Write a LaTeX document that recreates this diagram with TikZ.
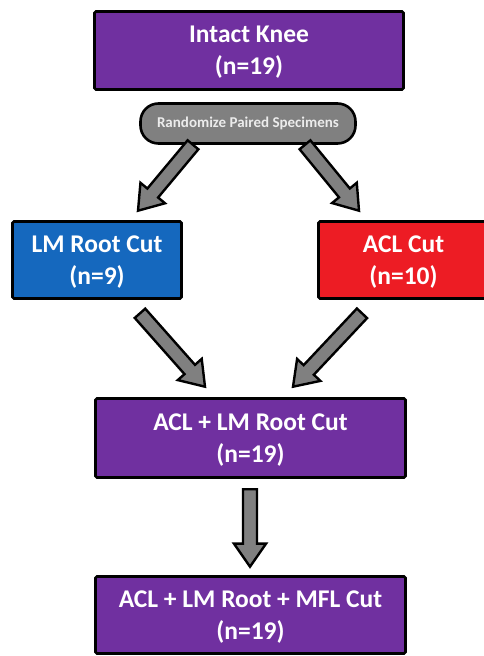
\documentclass[tikz,border=0pt]{standalone}
\usepackage{fontspec}
\setmainfont{Carlito}
\usetikzlibrary{calc, positioning}
\definecolor{KneePurple}{RGB}{112, 48, 160}
\definecolor{CutBlue}{RGB}{21, 104, 190}
\definecolor{CutRed}{RGB}{237, 28, 36}
\definecolor{ArrowGrey}{RGB}{128, 128, 128}

\begin{document}
\begin{tikzpicture}[x=1pt, y=1pt,
    box/.style={draw=black, line width=2.6pt, rounded corners=1.5pt, text=white,
        align=center, inner sep=0pt, text depth=0pt,
        font=\bfseries\fontsize{25.5}{32}\selectfont},
    pill/.style={draw=black, line width=2.6pt, rounded corners=18pt, fill=ArrowGrey,
        text=gray!15, inner sep=0pt, font=\bfseries\fontsize{15}{17}\selectfont},
    blockarrow/.style={draw=black, fill=ArrowGrey, line width=2.4pt, line join=miter}]
    % Marco
    \useasboundingbox (0,0) rectangle (484,656);
    \clip (0,0) rectangle (484,656);

    % Cajas
    \node[box, fill=KneePurple, minimum width=309pt, minimum height=78pt] (knee) at (249,605.5)
        {Intact Knee\\(n=19)};
    \node[pill, minimum width=215pt, minimum height=40pt] (pill) at (248,532.5)
        {Randomize Paired Specimens};
    \node[box, fill=CutBlue, minimum width=169pt, minimum height=77pt] (lm) at (97,396)
        {LM Root Cut\\(n=9)};
    \node[box, fill=CutRed, minimum width=170pt, minimum height=77pt] (acl) at (403.5,396)
        {ACL Cut\\(n=10)};
    \node[box, fill=KneePurple, minimum width=310pt, minimum height=79pt] (both) at (250.5,218)
        {ACL + LM Root Cut\\(n=19)};
    \node[box, fill=KneePurple, minimum width=310pt, minimum height=77pt] (mfl) at (250.5,41)
        {ACL + LM Root + MFL Cut\\(n=19)};

    % Extremos de las flechas
    \coordinate (pillL) at ([xshift=-55pt]pill.south);
    \coordinate (lmIn) at ([xshift=41pt, yshift=9.5pt]lm.north);
    \coordinate (pillR) at ([xshift=57pt]pill.south);
    \coordinate (aclIn) at ([xshift=-44.5pt, yshift=9.5pt]acl.north);
    \coordinate (lmOut) at ([xshift=43pt, yshift=-13.5pt]lm.south);
    \coordinate (bothInL) at ([xshift=-45.5pt, yshift=10.5pt]both.north);
    \coordinate (aclOut) at ([xshift=-41.5pt, yshift=-13.5pt]acl.south);
    \coordinate (bothInR) at ([xshift=42.5pt, yshift=10.5pt]both.north);
    \coordinate (bothOut) at ([xshift=-0.5pt, yshift=-10.5pt]both.south);
    \coordinate (mflIn) at ([xshift=-0.5pt, yshift=8.5pt]mfl.north);

    % Flechas de bloque
    \foreach \from/\to in {pillL/lmIn, pillR/aclIn, lmOut/bothInL, aclOut/bothInR, bothOut/mflIn} {
        \coordinate (head) at ($(\to)!23pt!(\from)$);
        \filldraw[blockarrow] ($(\from)!7pt!90:(\to)$) -- ($(head)!7pt!90:(\to)$)
            -- ($(head)!16pt!90:(\to)$) -- (\to) -- ($(head)!16pt!-90:(\to)$)
            -- ($(head)!7pt!-90:(\to)$) -- ($(\from)!7pt!-90:(\to)$) -- cycle;
    }
\end{tikzpicture}
\end{document}
